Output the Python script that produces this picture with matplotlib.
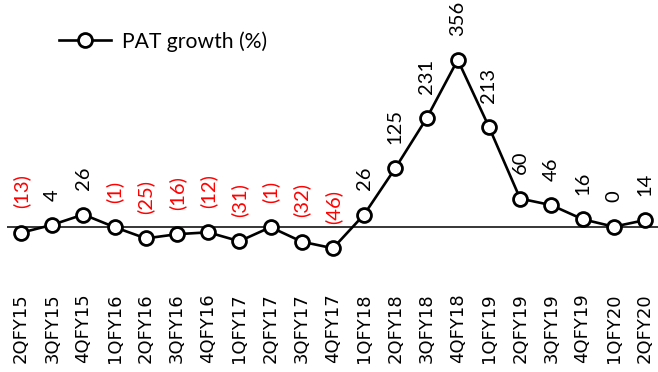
import matplotlib.pyplot as plt

plt.rcParams['font.family'] = ['Lato', 'DejaVu Sans']

quarters = ['2QFY15', '3QFY15', '4QFY15', '1QFY16', '2QFY16', '3QFY16', '4QFY16',
            '1QFY17', '2QFY17', '3QFY17', '4QFY17', '1QFY18', '2QFY18', '3QFY18',
            '4QFY18', '1QFY19', '2QFY19', '3QFY19', '4QFY19', '1QFY20', '2QFY20']
pat_growth = [-13, 4, 26, -1, -25, -16, -12, -31, -1, -32, -46, 26, 125, 231,
              356, 213, 60, 46, 16, 0, 14]

fig = plt.figure(figsize=(6.58, 3.72), dpi=100)
ax = fig.add_axes([7 / 658, 1 - 282 / 372, 651 / 658, 277 / 372])

x = list(range(len(quarters)))
ax.plot(x, pat_growth, '-o', color='black', lw=1.9, markersize=10,
        markerfacecolor='white', markeredgecolor='black', markeredgewidth=2,
        label='PAT growth (%)', zorder=3)
ax.axhline(0, color='black', lw=1.1, zorder=1)

for i, v in enumerate(pat_growth):
    txt = '(%d)' % abs(v) if v < 0 else '%d' % v
    col = 'red' if v < 0 else 'black'
    ax.annotate(txt, (i, v), xytext=(0, 17.5), textcoords='offset points',
                rotation=90, ha='center', va='bottom', color=col, fontsize=14.5)

ax.set_xlim(-0.45, 20.42)
ax.set_ylim(-118, 473)
ax.set_xticks(x)
ax.set_xticklabels(quarters, rotation=90, fontsize=13, family='DejaVu Sans')
ax.tick_params(axis='x', length=0, pad=8)
ax.set_yticks([])
for s in ax.spines.values():
    s.set_visible(False)

ax.legend(loc='upper left', bbox_to_anchor=(0.05, 0.975), frameon=False,
          fontsize=15.2, handlelength=2.5, handletextpad=0.5)

plt.savefig('out.png', dpi=100)
